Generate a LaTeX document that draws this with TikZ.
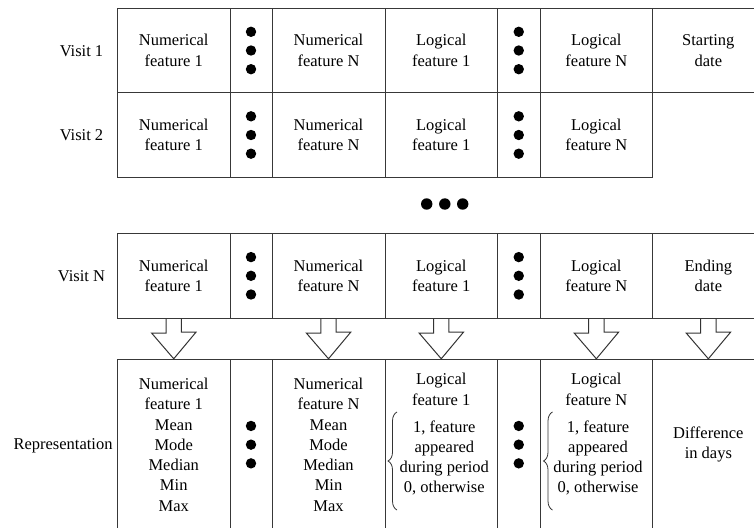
\documentclass[tikz,border=0pt]{standalone}
\usepackage{fontspec}
\setmainfont{Liberation Serif}
\usetikzlibrary{calc,decorations.pathreplacing}
\newcommand\threedots[1]{%
  \foreach \dy in {-18.7,0,18.7}{\fill[dotcol] ($(#1.center)+(0,\dy)$) circle (5.2pt);}}
\newcommand\blockarr[2]{%
  \draw[arr] ([xshift=-7.65pt]#1.south) -- ++(0pt,-14.4pt) -- ++(-14.55pt,0pt)
    -- (#2.north) -- ++(22.2pt,26.6pt) -- ++(-14.55pt,0pt) -- ([xshift=7.65pt]#1.south);}
\begin{document}
\begin{tikzpicture}[x=1pt,y=-1pt,
  txt/.style={inner sep=0pt, align=center, font=\fontsize{16.5}{20.3}\selectfont, text=black},
  cell/.style={txt, draw=black!78, line width=1pt, anchor=center},
  wA/.style={minimum width=112.5pt}, wB/.style={minimum width=42pt},
  wC/.style={minimum width=113pt}, wD/.style={minimum width=112.5pt},
  wE/.style={minimum width=42.5pt}, wF/.style={minimum width=112.7pt},
  wG/.style={minimum width=111.3pt},
  hrow/.style={minimum height=84.6pt}, hrep/.style={minimum height=170.7pt},
  arr/.style={draw=black!80, line width=1pt, line join=miter},
  dotcol/.style={black},
  bracec/.style={draw=black!80, line width=0.8pt, decorate, decoration={brace, amplitude=9pt}}
]
\clip (0,0) rectangle (754,527);

% row 1
\node[cell,wA,hrow] (a1) at (173.75,50.5) {Numerical\\feature 1};
\node[cell,wB,hrow] (b1) at (251,50.5) {};
\node[cell,wC,hrow] (c1) at (328.5,50.5) {Numerical\\feature N};
\node[cell,wD,hrow] (d1) at (441.25,50.5) {Logical\\feature 1};
\node[cell,wE,hrow] (e1) at (518.75,50.5) {};
\node[cell,wF,hrow] (f1) at (596.35,50.5) {Logical\\feature N};
\node[cell,wG,hrow] (g1) at (708.35,50.5) {Starting\\date};
% row 2
\node[cell,wA,hrow] (a2) at (173.75,135) {Numerical\\feature 1};
\node[cell,wB,hrow] (b2) at (251,135) {};
\node[cell,wC,hrow] (c2) at (328.5,135) {Numerical\\feature N};
\node[cell,wD,hrow] (d2) at (441.25,135) {Logical\\feature 1};
\node[cell,wE,hrow] (e2) at (518.75,135) {};
\node[cell,wF,hrow] (f2) at (596.35,135) {Logical\\feature N};
% row N
\node[cell,wA,hrow] (a3) at (173.75,275.8) {Numerical\\feature 1};
\node[cell,wB,hrow] (b3) at (251,275.8) {};
\node[cell,wC,hrow] (c3) at (328.5,275.8) {Numerical\\feature N};
\node[cell,wD,hrow] (d3) at (441.25,275.8) {Logical\\feature 1};
\node[cell,wE,hrow] (e3) at (518.75,275.8) {};
\node[cell,wF,hrow] (f3) at (596.35,275.8) {Logical\\feature N};
\node[cell,wG,hrow] (g3) at (708.35,275.8) {Ending\\date};
% representation
\node[cell,wA,hrep] (a4) at (173.75,444.65) {Numerical\\feature 1\\Mean\\Mode\\Median\\Min\\Max};
\node[cell,wB,hrep] (b4) at (251,444.65) {};
\node[cell,wC,hrep] (c4) at (328.5,444.65) {Numerical\\feature N\\Mean\\Mode\\Median\\Min\\Max};
\node[cell,wD,hrep] (d4) at (441.25,444.65) {};
\node[cell,wE,hrep] (e4) at (518.75,444.65) {};
\node[cell,wF,hrep] (f4) at (596.35,444.65) {};
\node[cell,wG,hrep] (g4) at (708.35,444.65) {Difference\\in days};

\node[txt] (d4t) at (441.25,389.3) {Logical\\feature 1};
\node[txt] (d4l) at (444.3,458) {1, feature\\appeared\\during period\\0, otherwise};
\coordinate (d4bb) at (397,510);
\coordinate (d4bt) at (397,412);
\draw[bracec] (d4bb) -- (d4bt);
\node[txt] (f4t) at (596.35,389.3) {Logical\\feature N};
\node[txt] (f4l) at (598,458) {1, feature\\appeared\\during period\\0, otherwise};
\coordinate (f4bb) at (552.5,510);
\coordinate (f4bt) at (552.5,412);
\draw[bracec] (f4bb) -- (f4bt);

% row labels
\node[txt] (l1) at (81.5,51) {Visit 1};
\node[txt] (l2) at (81.5,135.5) {Visit 2};
\node[txt] (l3) at (81.5,276) {Visit N};
\node[txt] (l4) at (63,446) {Representation};

% vertical dots
\threedots{b1}\threedots{e1}
\threedots{b2}\threedots{e2}
\threedots{b3}\threedots{e3}
\threedots{b4}\threedots{e4}

% horizontal dots
\fill[dotcol] (426.7,204) circle (5.7pt);
\fill[dotcol] (444.8,204) circle (5.7pt);
\fill[dotcol] (462.7,204) circle (5.7pt);

% arrows
\blockarr{a3}{a4}
\blockarr{c3}{c4}
\blockarr{d3}{d4}
\blockarr{f3}{f4}
\blockarr{g3}{g4}
\end{tikzpicture}
\end{document}
